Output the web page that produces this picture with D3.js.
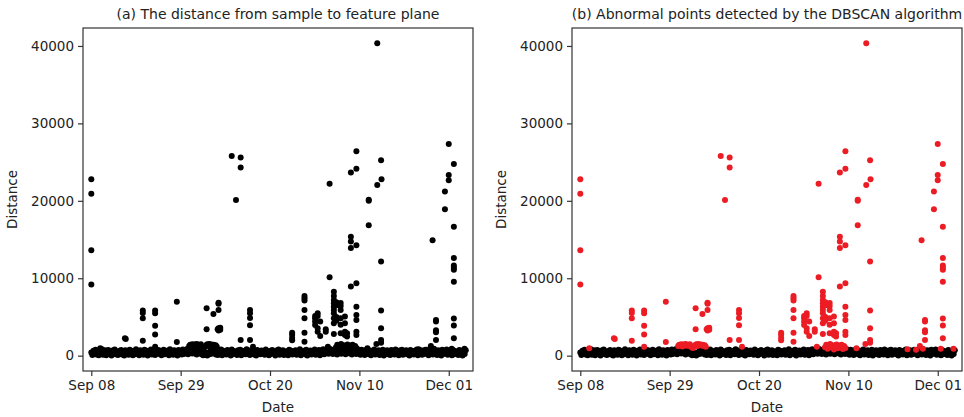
<!DOCTYPE html>
<html>
<head>
<meta charset="utf-8">
<script src="https://cdn.jsdelivr.net/npm/d3@7"></script>
<style>
  body { margin: 0; background: #fff; }
  svg { display: block; }
  text { font-family: "DejaVu Sans", sans-serif; fill: #222; }
</style>
</head>
<body>
<svg id="chart" width="964" height="417"></svg>
<script>
// ---- data ----
var startDate = new Date(2019, 8, 8);   // first sample, Sep 08
var stepHours = 6;                      // spacing of the baseline samples
var tickDates = ["2019-09-08", "2019-09-29", "2019-10-20", "2019-11-10", "2019-12-01"];
var yTicks = [0, 10000, 20000, 30000, 40000];
var titles = ["(a) The distance from sample to feature plane",
              "(b) Abnormal points detected by the DBSCAN algorithm"];

// normal samples (black in both panels), one every 6 hours
var baseline = [
  420, 80, 650, 300, 760, 150, 520, 40,
  610, 280, 830, 120, 450, 700, 60, 390,
  720, 210, 540, 30, 680, 350, 810, 170,
  480, 90, 600, 260, 740, 140, 560, 20,
  690, 330, 470, 110, 780, 240, 620, 70,
  510, 190, 840, 300, 430, 50, 710, 260,
  590, 130, 760, 380, 640, 10, 520, 220,
  800, 160, 450, 680, 90, 570, 310, 730,
  200, 620, 40, 490, 750, 180, 560, 340,
  660, 70, 820, 250, 440, 130, 700, 380,
  580, 20, 730, 290, 510, 160, 790, 230,
  640, 350, 860, 190, 720, 410, 580, 270,
  760, 300, 620, 150, 700, 380, 540, 220,
  450, 60, 380, 120, 300, 10, 420, 180,
  610, 250, 740, 330, 560, 140, 680, 90,
  520, 200, 790, 60, 630, 310, 470, 150,
  720, 280, 540, 30, 810, 190, 600, 350,
  430, 100, 690, 240, 770, 50, 520, 300,
  650, 170, 830, 260, 480, 80, 710, 390,
  560, 140, 620, 20, 740, 290, 500, 180,
  680, 330, 450, 110, 790, 240, 570, 60,
  610, 210, 720, 370, 520, 30, 660, 250,
  800, 130, 470, 300, 690, 90, 580, 200,
  530, 40, 760, 270, 620, 160, 440, 350,
  710, 110, 580, 230, 820, 70, 490, 310,
  640, 190, 750, 20, 560, 340, 680, 150,
  590, 260, 810, 120, 470, 380, 720, 50,
  660, 300, 840, 180, 560, 420, 760, 240,
  880, 350, 690, 210, 800, 460, 620, 150,
  780, 320, 900, 250, 640, 480, 850, 190,
  740, 400, 880, 280, 700, 150, 820, 360,
  690, 230, 860, 310, 580, 120, 750, 270,
  620, 80, 730, 330, 510, 190, 680, 40,
  560, 280, 790, 140, 470, 360, 700, 100,
  600, 210, 760, 30, 540, 320, 690, 170,
  480, 90, 720, 260, 630, 150, 810, 300,
  550, 40, 670, 230, 780, 120, 460, 350,
  700, 180, 590, 10, 740, 280, 520, 160,
  650, 330, 800, 70, 570, 240, 690, 110,
  510, 200, 760, 370, 620, 50, 730, 290,
  590, 140, 820, 260, 480, 90, 700, 340,
  640, 30, 760, 210, 560, 310, 790, 120,
  530, 250, 680, 60, 740, 190, 610, 380,
  470, 100, 720, 280, 650, 20, 560, 230,
  690
];

// abnormal samples just above the band: [days after Sep 08, distance]
var bandAnomalies = [
  [2.1, 950], [15.0, 1160],
  [23.0, 1250], [23.25, 1400], [23.5, 1320], [23.75, 1480], [24.0, 1200], [24.25, 1450],
  [24.5, 1350], [24.75, 1500], [25.0, 1280], [25.25, 1420], [25.5, 1300], [25.75, 1460],
  [26.0, 1150], [26.25, 1050], [26.5, 1000], [26.75, 1180], [27.0, 1350], [27.25, 1480],
  [27.5, 1260], [27.75, 1520], [28.0, 1380], [28.25, 1450], [28.5, 1300], [28.75, 1420],
  [29.0, 1250], [29.25, 1350], [29.5, 1150],
  [38.0, 1160], [55.6, 1160],
  [57.5, 1100], [57.8, 1400], [58.1, 900], [58.4, 1250], [58.7, 1500], [59.0, 1050],
  [59.3, 1350], [59.6, 800], [59.9, 1200], [60.2, 1450], [60.5, 950], [60.8, 1300],
  [61.1, 1100], [61.4, 1400], [61.7, 850], [62.0, 1250], [62.3, 1000],
  [64.9, 950], [67.0, 1500], [76.9, 830], [78.9, 780], [79.8, 1250], [80.5, 900],
  [84.7, 900], [87.7, 900]
];

// large distances: [days after Sep 08, distance]
var outliers = [
  [0.0, 22800], [0.0, 20900], [0.0, 13600], [0.0, 9200],
  [7.9, 2250], [8.1, 2150],
  [12.1, 5820], [12.1, 5500], [12.1, 4830], [12.1, 1940],
  [15.0, 5820], [15.0, 5480], [15.0, 3880], [15.0, 2750],
  [20.1, 6980], [20.1, 1770],
  [27.1, 6120], [27.1, 3410], [28.7, 5390],
  [29.9, 6850], [29.9, 6700], [29.9, 5900], [29.9, 3550], [29.7, 3400], [29.9, 3250],
  [30.3, 3600], [30.3, 3350],
  [33.0, 25800], [34.0, 20100], [35.1, 25600], [35.1, 24300], [35.1, 2030],
  [37.3, 5900], [37.3, 5480], [37.3, 4880], [37.3, 3940], [37.3, 2030],
  [47.2, 2970], [47.2, 2700], [47.2, 2270], [47.2, 1980],
  [50.1, 7710], [50.1, 7410], [50.1, 7110], [50.1, 5900], [50.1, 4830], [50.1, 2970], [50.1, 1810],
  [52.6, 5130], [52.6, 4830], [52.6, 4400], [52.6, 3970],
  [53.2, 5480], [53.2, 5120], [53.2, 3540], [53.2, 3100],
  [53.8, 4400], [53.8, 2540], [55.1, 3400], [55.1, 3100],
  [56.0, 22200], [56.0, 10130],
  [57.0, 8270], [57.0, 7710], [57.0, 7200], [57.0, 6770], [57.0, 6330], [57.0, 5900],
  [57.0, 5480], [57.0, 4830], [57.0, 4190], [57.0, 2800],
  [57.6, 6900], [57.6, 6500], [57.6, 5000], [57.6, 4500],
  [58.6, 6800], [58.6, 6400], [58.6, 5900], [58.6, 4830], [58.6, 4000], [58.6, 2890],
  [59.6, 5050], [59.6, 4190], [59.6, 3100], [59.6, 2670],
  [60.1, 2890], [60.1, 2460],
  [61.0, 23650], [61.0, 15350], [61.0, 14750], [61.0, 13900], [61.0, 8920],
  [62.3, 26400], [62.3, 24150], [62.3, 14250], [62.3, 9350], [62.3, 6330], [62.3, 5260],
  [62.3, 4620], [62.3, 3100], [62.3, 2670],
  [65.2, 20150], [65.2, 20000], [65.2, 16850],
  [67.2, 40350], [67.2, 22050],
  [68.1, 25250], [68.2, 22800], [68.1, 12150], [68.1, 5820], [68.1, 3540], [68.1, 2030], [68.1, 1680],
  [80.2, 14900],
  [81.0, 4610], [81.0, 4400], [81.0, 3290], [81.0, 3030], [81.0, 2030],
  [83.1, 21200], [83.1, 18900],
  [84.0, 27350], [84.0, 23350], [84.0, 22650],
  [85.2, 24750], [85.2, 16650], [85.2, 12600], [85.2, 11650], [85.2, 11350], [85.2, 11100],
  [85.2, 9550], [85.2, 4800], [85.2, 3900], [85.2, 2250]
];

// ---- drawing ----
var svg = d3.select('#chart');
var frameTop = 28, frameBottom = 371;
var panels = [
  { left: 83, right: 473, title: titles[0], anomalyColor: "#000" },
  { left: 572, right: 962, title: titles[1], anomalyColor: "#ec1c24" }
];

function dayToDate(d) {
  return new Date(startDate.getTime() + d * 864e5);
}

var parseDay = d3.timeParse("%Y-%m-%d");
var fmt = d3.timeFormat("%b %d");

var y = d3.scaleLinear()
    .domain([-1980, 42320])
    .range([frameBottom, frameTop]);

panels.forEach(function(p) {

    var x = d3.scaleTime()
        .domain([dayToDate(-1.95), dayToDate(89.7)])
        .range([p.left, p.right]);

    var g = svg.append("g");

    // normal points
    g.selectAll("circle.base")
        .data(baseline)
        .enter()
        .append("circle")
        .attr("class", "base")
        .attr("cx", function(d, i) { return x(new Date(startDate.getTime() + i * stepHours * 36e5)); })
        .attr("cy", function(d) { return y(d); })
        .attr("r", 3)
        .style("fill", "#000");

    // abnormal points (red in panel b)
    g.selectAll("circle.anom")
        .data(bandAnomalies.concat(outliers))
        .enter()
        .append("circle")
        .attr("class", "anom")
        .attr("cx", function(d) { return x(dayToDate(d[0])); })
        .attr("cy", function(d) { return y(d[1]); })
        .attr("r", 3)
        .style("fill", p.anomalyColor);

    // frame
    g.append("rect")
        .attr("x", p.left)
        .attr("y", frameTop)
        .attr("width", p.right - p.left)
        .attr("height", frameBottom - frameTop)
        .style("fill", "none")
        .style("stroke", "#333")
        .style("stroke-width", 1.2);

    // x axis
    var xAxis = d3.axisBottom(x)
        .tickValues(tickDates.map(parseDay))
        .tickFormat(fmt)
        .tickSize(5)
        .tickPadding(4);
    var gx = g.append("g")
        .attr("transform", "translate(0," + frameBottom + ")")
        .call(xAxis);
    gx.select(".domain").remove();
    gx.selectAll("line").style("stroke", "#333").style("stroke-width", 1.2);
    gx.selectAll("text").style("font-size", "13.5px").style("font-family", "DejaVu Sans").attr("fill", "#222");

    // y axis
    var yAxis = d3.axisLeft(y)
        .tickValues(yTicks)
        .tickFormat(d3.format("d"))
        .tickSize(5)
        .tickPadding(4);
    var gy = g.append("g")
        .attr("transform", "translate(" + p.left + ",0)")
        .call(yAxis);
    gy.select(".domain").remove();
    gy.selectAll("line").style("stroke", "#333").style("stroke-width", 1.2);
    gy.selectAll("text").style("font-size", "13.5px").style("font-family", "DejaVu Sans").attr("fill", "#222");

    // titles and labels
    g.append("text")
        .attr("x", (p.left + p.right) / 2)
        .attr("y", 19)
        .attr("text-anchor", "middle")
        .style("font-size", "14px")
        .text(p.title);

    g.append("text")
        .attr("x", (p.left + p.right) / 2)
        .attr("y", 412)
        .attr("text-anchor", "middle")
        .style("font-size", "13.5px")
        .text("Date");

    g.append("text")
        .attr("transform", "translate(" + (p.left - 66) + "," + ((frameTop + frameBottom) / 2) + ") rotate(-90)")
        .attr("text-anchor", "middle")
        .style("font-size", "13.5px")
        .text("Distance");
});
</script>
</body>
</html>
